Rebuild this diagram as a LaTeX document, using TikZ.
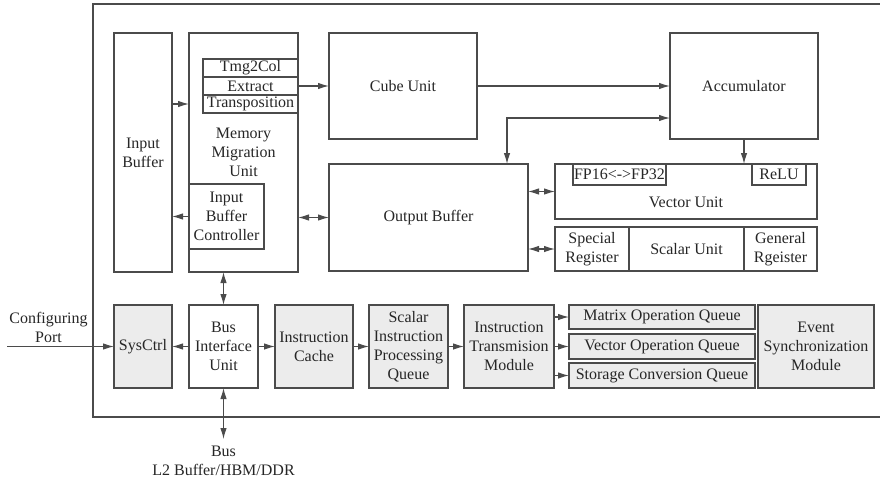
\documentclass[tikz,border=0pt]{standalone}
\usepackage{fontspec}
\setmainfont{Liberation Serif}
\usepackage{tikz}
\usetikzlibrary{arrows.meta,positioning,calc}
\definecolor{linegray}{RGB}{75,75,75}
\definecolor{boxgray}{RGB}{236,236,236}
\tikzset{
  blk/.style={draw=linegray,line width=1.1pt,align=center,inner sep=1pt,outer sep=0pt},
  gblk/.style={blk,fill=boxgray},
  arr/.style={-{Latex[length=11pt,width=6.5pt]},line width=1.1pt,draw=linegray},
  biarr/.style={{Latex[length=11pt,width=6.5pt]}-{Latex[length=11pt,width=6.5pt]},line width=1.1pt,draw=linegray}
}

\begin{document}
\begin{tikzpicture}[x=1pt,y=-1pt,every node/.style={font=\fontsize{16}{19}\selectfont,text=black!85}]
    \useasboundingbox (0,0) rectangle (880,482);
    % outer frame (runs off the right edge)
    \draw[linegray,line width=1.1pt] (884,4) -| (93,417) -- (884,417);

    % upper part
    \node[blk,minimum width=58pt,minimum height=239pt] (ibuf) at (143,152.5) {Input\\Buffer};
    \node[blk,minimum width=109pt,minimum height=239pt] (mmu) at (243.5,152.5) {Memory\\Migration\\Unit};
    \node[blk,fill=white,minimum width=95pt,minimum height=18pt] (tmg) at (250.5,68) {Tmg2Col};
    \node[blk,minimum width=95pt,minimum height=18pt,below=0pt of tmg] (ext) {Extract};
    \node[blk,minimum width=95pt,minimum height=18pt,below=0pt of ext] (tp) {Transposition};
    \node[blk,fill=white,minimum width=75pt,minimum height=65pt] (ibc) at (226.5,216.5) {Input\\Buffer\\Controller};

    \node[blk,minimum width=148pt,minimum height=106pt] (cube) at (403,86) {Cube Unit};
    \node[blk,minimum width=148pt,minimum height=106pt] (acc) at (744,86) {Accumulator};
    \node[blk,minimum width=199pt,minimum height=107pt] (obuf) at (428.5,217.5) {Output Buffer};

    \node[blk,minimum width=262pt,minimum height=55pt,label={[yshift=-10.5pt]center:Vector Unit}] (vec) at (686,191.5) {};
    \node[blk,minimum width=93pt,minimum height=21pt] (fp) at (619.5,174.5) {FP16<->FP32};
    \node[blk,minimum width=54pt,minimum height=21pt] (relu) at (779,174.5) {ReLU};

    \node[blk,minimum width=74pt,minimum height=44pt] (sreg) at (592,249) {Special\\Register};
    \node[blk,minimum width=115pt,minimum height=44pt,right=0pt of sreg] (sclr) {Scalar Unit};
    \node[blk,minimum width=73pt,minimum height=44pt,right=0pt of sclr] (greg) {General\\Rgeister};

    % lower part
    \node[gblk,minimum width=58pt,minimum height=83pt] (sys) at (143,346.5) {SysCtrl};
    \node[blk,minimum width=69pt,minimum height=83pt,right=17pt of sys] (biu) {Bus\\Interface\\Unit};
    \node[gblk,minimum width=78pt,minimum height=83pt,right=17pt of biu] (ic) {Instruction\\Cache};
    \node[gblk,minimum width=79pt,minimum height=83pt,right=16pt of ic] (sipq) {Scalar\\Instruction\\Processing\\Queue};
    \node[gblk,minimum width=90pt,minimum height=83pt,right=16pt of sipq] (itm) {Instruction\\Transmision\\Module};
    \node[gblk,minimum width=186pt,minimum height=24pt,right=15pt of itm.north east,anchor=north west] (moq) {Matrix Operation Queue};
    \node[gblk,minimum width=186pt,minimum height=25pt,below=5pt of moq] (voq) {Vector Operation Queue};
    \node[gblk,minimum width=186pt,minimum height=25pt,below=4pt of voq] (scq) {Storage Conversion Queue};
    \node[gblk,minimum width=116pt,minimum height=83pt,right=3pt of voq] (esm) {Event\\Synchronization\\Module};

    \node[align=center,inner sep=1pt] (cfgport) at (48.5,327) {Configuring\\Port};
    \coordinate (cfg) at (7,346.5);
    \node[align=center,inner xsep=1pt,inner ysep=7pt,below=51pt of biu] (bus) {Bus\\L2 Buffer/HBM/DDR};

    % connectors
    \draw[arr] (ibuf.east |- tp) -- (mmu.west |- tp);
    \draw[arr] (ibc.west) -- (ibuf.east |- ibc.west);
    \draw[arr] (ext.east) -- (cube.west |- ext.east);
    \draw[arr] (cube) -- (acc);
    \draw[biarr] ([xshift=78.5pt]obuf.north) |- ([yshift=-32pt]acc.west);
    \draw[arr] (acc.south) -- (vec.north -| acc.south);
    \draw[biarr] (mmu.east |- obuf) -- (obuf.west);
    \draw[biarr] (obuf.east |- vec) -- (vec.west);
    \draw[biarr] (obuf.east |- sreg) -- (sreg.west);
    \draw[biarr] (biu.north) -- (mmu.south -| biu.north);
    \draw[biarr] (biu.south) -- (bus.north);
    \draw[arr] (cfg) -- (sys.west);
    \draw[arr] (biu) -- (sys);
    \draw[arr] (biu) -- (ic);
    \draw[arr] (ic) -- (sipq);
    \draw[arr] (sipq) -- (itm);
    \draw[arr] (itm.east |- moq) -- (moq.west);
    \draw[arr] (itm.east |- voq) -- (voq.west);
    \draw[arr] (itm.east |- scq) -- (scq.west);
  \end{tikzpicture}
\end{document}
